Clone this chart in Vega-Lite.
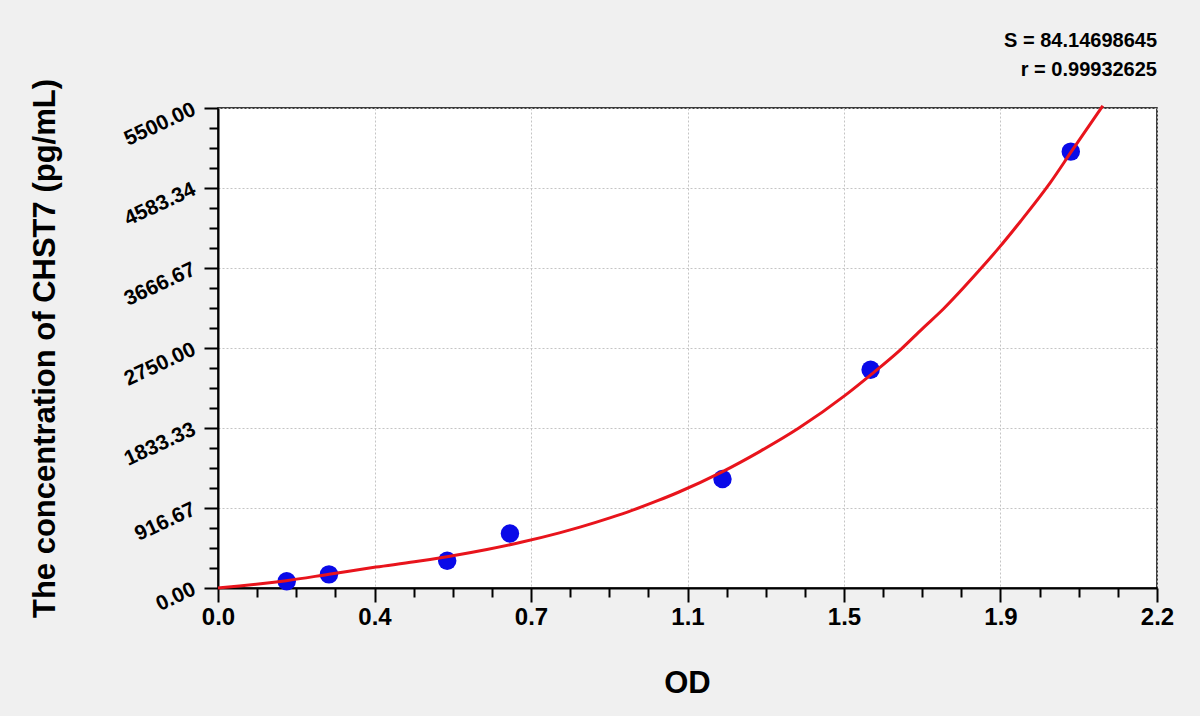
{
  "$schema": "https://vega.github.io/schema/vega-lite/v6.json",
  "width": 939,
  "height": 480,
  "autosize": "none",
  "padding": {"left": 218, "top": 108, "right": 43, "bottom": 128},
  "background": "#f0f0f0",
  "config": {
    "font": "Liberation Sans",
    "view": {"fill": "white", "stroke": "black", "strokeWidth": 1.5},
    "axis": {
      "domainColor": "black",
      "domainWidth": 2,
      "tickColor": "black",
      "tickWidth": 2,
      "labelColor": "black",
      "labelFont": "Liberation Sans",
      "labelFontWeight": "bold",
      "titleColor": "black",
      "titleFont": "Liberation Sans",
      "titleFontWeight": "bold",
      "gridColor": "#c4c4c4",
      "gridDash": [2, 2],
      "gridWidth": 1,
      "labelOverlap": false,
      "labelFlush": false,
      "labelBound": false
    }
  },
  "title": {
    "text": ["S = 84.14698645", "r = 0.99932625"],
    "anchor": "end",
    "frame": "group",
    "font": "Liberation Sans",
    "fontSize": 20,
    "fontWeight": "bold",
    "color": "black",
    "lineHeight": 29,
    "offset": -2
  },
  "datasets": {
    "points": [
      {"od": 0.161, "conc": 78.125},
      {"od": 0.260, "conc": 156.25},
      {"od": 0.537, "conc": 312.5},
      {"od": 0.684, "conc": 625},
      {"od": 1.182, "conc": 1250},
      {"od": 1.529, "conc": 2500},
      {"od": 1.998, "conc": 5000}
    ],
    "curve": [
      {"od": 0.0, "conc": 0},
      {"od": 0.05, "conc": 22},
      {"od": 0.10, "conc": 48},
      {"od": 0.16, "conc": 84},
      {"od": 0.26, "conc": 158},
      {"od": 0.37, "conc": 240},
      {"od": 0.46, "conc": 300},
      {"od": 0.54, "conc": 362},
      {"od": 0.63, "conc": 442},
      {"od": 0.71, "conc": 524},
      {"od": 0.80, "conc": 632},
      {"od": 0.85, "conc": 700},
      {"od": 0.92, "conc": 806},
      {"od": 0.97, "conc": 889},
      {"od": 1.03, "conc": 1000},
      {"od": 1.08, "conc": 1100},
      {"od": 1.18, "conc": 1328},
      {"od": 1.27, "conc": 1566},
      {"od": 1.36, "conc": 1830},
      {"od": 1.47, "conc": 2210},
      {"od": 1.53, "conc": 2445},
      {"od": 1.60, "conc": 2735},
      {"od": 1.65, "conc": 2970},
      {"od": 1.70, "conc": 3200},
      {"od": 1.78, "conc": 3620},
      {"od": 1.83, "conc": 3900},
      {"od": 1.88, "conc": 4200},
      {"od": 1.95, "conc": 4645},
      {"od": 2.00, "conc": 5005},
      {"od": 2.073, "conc": 5526}
    ]
  },
  "encoding": {
    "x": {
      "field": "od",
      "type": "quantitative",
      "scale": {"domain": [0, 2.2], "nice": false, "zero": false},
      "axis": {
        "title": "OD",
        "titleFontSize": 31,
        "titleX": 469,
        "titleY": 95,
        "titleAlign": "center",
        "titleBaseline": "middle",
        "labelFontSize": 24,
        "labelPadding": 3,
        "values": [0, 0.0916667, 0.1833333, 0.275, 0.3666667, 0.4583333, 0.55, 0.6416667, 0.7333333, 0.825, 0.9166667, 1.0083333, 1.1, 1.1916667, 1.2833333, 1.375, 1.4666667, 1.5583333, 1.65, 1.7416667, 1.8333333, 1.925, 2.0166667, 2.1083333, 2.2],
        "labelExpr": "abs(datum.value*6/2.2 - round(datum.value*6/2.2)) < 0.01 ? (abs(datum.value-1.8333)<0.01 ? '1.9' : format(datum.value, '.1f')) : ''",
        "tickSize": {"condition": {"test": "abs(datum.value*6/2.2 - round(datum.value*6/2.2)) < 0.01", "value": 14}, "value": 9},
        "gridOpacity": {"condition": {"test": "abs(datum.value*6/2.2 - round(datum.value*6/2.2)) < 0.01", "value": 1}, "value": 0}
      }
    },
    "y": {
      "field": "conc",
      "type": "quantitative",
      "scale": {"domain": [0, 5500], "nice": false},
      "axis": {
        "title": "The concentration of CHST7 (pg/mL)",
        "titleFontSize": 31,
        "titleX": -173,
        "titleY": 240,
        "titleAngle": -90,
        "titleAlign": "center",
        "titleBaseline": "middle",
        "labelFontSize": 21,
        "labelAngle": -25,
        "labelAlign": "right",
        "labelBaseline": "middle",
        "labelPadding": 10,
        "values": [0, 229.1667, 458.3333, 687.5, 916.6667, 1145.8333, 1375, 1604.1667, 1833.3333, 2062.5, 2291.6667, 2520.8333, 2750, 2979.1667, 3208.3333, 3437.5, 3666.6667, 3895.8333, 4125, 4354.1667, 4583.3333, 4812.5, 5041.6667, 5270.8333, 5500],
        "labelExpr": "abs(datum.value*6/5500 - round(datum.value*6/5500)) < 0.01 ? (abs(datum.value-4583.33)<1 ? '4583.34' : format(datum.value, '.2f')) : ''",
        "tickSize": {"condition": {"test": "abs(datum.value*6/5500 - round(datum.value*6/5500)) < 0.01", "value": 14}, "value": 9},
        "gridOpacity": {"condition": {"test": "abs(datum.value*6/5500 - round(datum.value*6/5500)) < 0.01", "value": 1}, "value": 0}
      }
    }
  },
  "layer": [
    {
      "data": {"name": "points"},
      "mark": {"type": "point", "filled": true, "shape": "circle", "size": 340, "color": "#0a0ae8", "opacity": 1}
    },
    {
      "data": {"name": "curve"},
      "mark": {"type": "line", "color": "#e8141c", "strokeWidth": 3, "interpolate": "monotone", "clip": false}
    }
  ]
}
